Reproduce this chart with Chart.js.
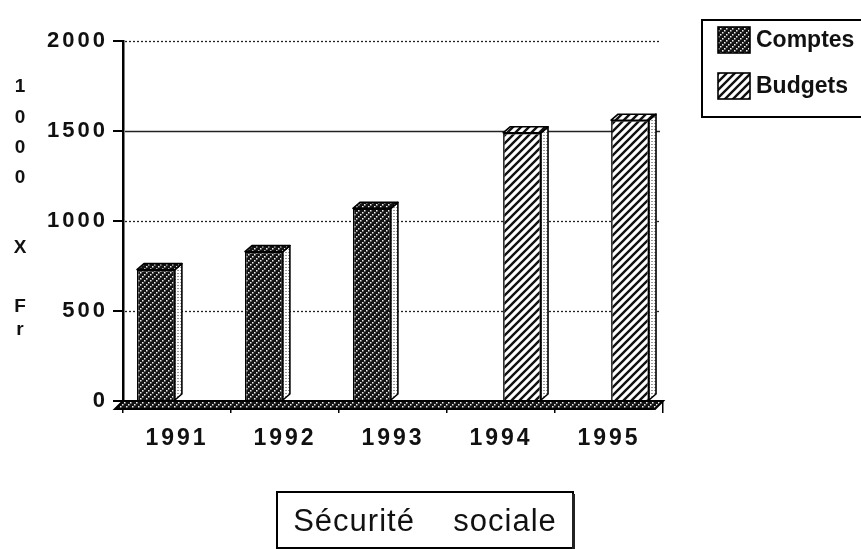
<!DOCTYPE html>
<html lang="fr">
<head>
  <meta charset="UTF-8">
  <title>Sécurité sociale</title>
  <script src="https://cdn.jsdelivr.net/npm/chart.js"></script>
  <style>
    body { margin: 0; background: #fff; }
    canvas { display: block; }
  </style>
</head>
<body>
<canvas id="chart" width="861" height="549"></canvas>
<script>
  const years = ['1991', '1992', '1993', '1994', '1995'];
  const comptes = [730, 830, 1070, 0, 0];
  const budgets = [0, 0, 0, 1490, 1560];
  const yTicks = [0, 500, 1000, 1500, 2000];
  const yTitleChars = ['1', '0', '0', '0', 'X', 'F', 'r'];
  const chartTitle = 'Sécurité    sociale';

  const FONT = "'Liberation Sans', Arial, sans-serif";
  const canvas = document.getElementById('chart');
  const ctx = canvas.getContext('2d');

  // dark tile with white dotted diagonals
  function dots() {
    const c = document.createElement('canvas');
    c.width = 6; c.height = 6;
    const g = c.getContext('2d');
    g.fillStyle = '#141414';
    g.fillRect(0, 0, 6, 6);
    g.fillStyle = '#f2f2f2';
    g.fillRect(0, 4, 1.5, 1.5);
    g.fillRect(2, 2, 1.5, 1.5);
    g.fillRect(4, 0, 1.5, 1.5);
    return ctx.createPattern(c, 'repeat');
  }
  // white tile with black diagonals
  function hatch(size, width) {
    const c = document.createElement('canvas');
    c.width = size; c.height = size;
    const g = c.getContext('2d');
    g.fillStyle = '#ffffff';
    g.fillRect(0, 0, size, size);
    g.strokeStyle = '#111111';
    g.lineWidth = width;
    g.beginPath();
    g.moveTo(0, size); g.lineTo(size, 0);
    g.moveTo(-2, 2); g.lineTo(2, -2);
    g.moveTo(size - 2, size + 2); g.lineTo(size + 2, size - 2);
    g.stroke();
    return ctx.createPattern(c, 'repeat');
  }
  function lines(bg, fg, size) {
    const c = document.createElement('canvas');
    c.width = size; c.height = size;
    const g = c.getContext('2d');
    g.fillStyle = bg;
    g.fillRect(0, 0, size, size);
    g.fillStyle = fg;
    g.fillRect(0, 0, size - 1, 1);
    return ctx.createPattern(c, 'repeat');
  }

  const darkHatch = dots();
  const lightHatch = hatch(8, 2.4);
  const sideFill = lines('#ffffff', '#9a9a9a', 3);

  const dx = 7, dy = 6;

  const gridAndFloor = {
    id: 'gridAndFloor',
    beforeDatasetsDraw(chart) {
      const { ctx, chartArea: a, scales: { y } } = chart;
      ctx.save();
      yTicks.forEach(v => {
        if (v === 0) return;
        const py = Math.round(y.getPixelForValue(v)) + 0.5;
        ctx.beginPath();
        ctx.strokeStyle = '#222';
        ctx.lineWidth = 1.3;
        ctx.setLineDash(v === 1500 ? [] : [2, 2]);
        ctx.moveTo(a.left + 2, py);
        ctx.lineTo(a.right - 3, py);
        ctx.stroke();
      });
      ctx.setLineDash([]);
      const base = y.getPixelForValue(0);
      ctx.beginPath();
      ctx.moveTo(a.left, base);
      ctx.lineTo(a.right, base);
      ctx.lineTo(a.right - 8, base + 8);
      ctx.lineTo(a.left - 8, base + 8);
      ctx.closePath();
      ctx.fillStyle = darkHatch;
      ctx.fill();
      ctx.strokeStyle = '#000';
      ctx.lineWidth = 2;
      ctx.stroke();
      ctx.restore();
    }
  };

  const depth = {
    id: 'depth',
    afterDatasetsDraw(chart) {
      const ctx = chart.ctx;
      ctx.save();
      ctx.strokeStyle = '#000';
      ctx.lineWidth = 1.6;
      ctx.lineJoin = 'round';
      chart.data.datasets.forEach((ds, i) => {
        chart.getDatasetMeta(i).data.forEach(el => {
          const { x, y, base, width } = el.getProps(['x', 'y', 'base', 'width'], true);
          if (Math.abs(base - y) < 1) return;
          const l = x - width / 2, r = x + width / 2;
          ctx.beginPath();
          ctx.moveTo(r, y);
          ctx.lineTo(r + dx, y - dy);
          ctx.lineTo(r + dx, base - dy);
          ctx.lineTo(r, base);
          ctx.closePath();
          ctx.fillStyle = sideFill;
          ctx.fill();
          ctx.stroke();
          ctx.beginPath();
          ctx.moveTo(l, y);
          ctx.lineTo(l + dx, y - dy);
          ctx.lineTo(r + dx, y - dy);
          ctx.lineTo(r, y);
          ctx.closePath();
          ctx.fillStyle = ds.backgroundColor;
          ctx.fill();
          ctx.stroke();
        });
      });
      ctx.restore();
    }
  };

  const decorations = {
    id: 'decorations',
    beforeDraw(chart) {
      chart.ctx.letterSpacing = '3px';
    },
    afterDraw(chart) {
      const ctx = chart.ctx;
      ctx.save();
      ctx.letterSpacing = '0px';
      ctx.fillStyle = '#111';
      ctx.textAlign = 'center';
      ctx.textBaseline = 'middle';

      // vertical axis title
      ctx.font = 'bold 19px ' + FONT;
      const ys = [87, 118, 148, 178, 248, 307, 330];
      yTitleChars.forEach((ch, i) => ctx.fillText(ch, 20, ys[i]));

      // legend
      ctx.strokeStyle = '#000';
      ctx.lineWidth = 2;
      ctx.strokeRect(702, 20, 180, 97);
      ctx.textAlign = 'left';
      ctx.font = 'bold 23px ' + FONT;
      chart.data.datasets.forEach((ds, i) => {
        const top = 27 + i * 46;
        ctx.fillStyle = ds.backgroundColor;
        ctx.fillRect(718, top, 32, 26);
        ctx.lineWidth = 1.6;
        ctx.strokeRect(718, top, 32, 26);
        ctx.fillStyle = '#111';
        ctx.fillText(ds.label, 756, top + 14);
      });

      // title box
      ctx.lineWidth = 2;
      ctx.strokeRect(277, 492, 296, 56);
      ctx.fillStyle = '#222';
      ctx.fillRect(572, 494, 3, 55);
      ctx.fillStyle = '#111';
      ctx.textAlign = 'center';
      ctx.font = '31px ' + FONT;
      ctx.letterSpacing = '1px';
      ctx.fillText(chartTitle, 425, 522);
      ctx.restore();
    }
  };

  new Chart(ctx, {
    type: 'bar',
    data: {
      labels: years,
      datasets: [
        { label: 'Comptes', data: comptes, backgroundColor: darkHatch, borderColor: '#000', borderWidth: 1.6 },
        { label: 'Budgets', data: budgets, backgroundColor: lightHatch, borderColor: '#000', borderWidth: 1.6 }
      ]
    },
    options: {
      responsive: false,
      animation: false,
      devicePixelRatio: 1,
      datasets: { bar: { categoryPercentage: 0.78, barPercentage: 0.9 } },
      layout: { padding: { left: 0, top: 41, right: 198, bottom: 88 } },
      plugins: { legend: { display: false }, tooltip: { enabled: false } },
      scales: {
        x: {
          afterFit: s => { s.height = 60; },
          grid: { offset: true, drawOnChartArea: false, tickLength: 12, color: '#000', lineWidth: 1.5 },
          border: { display: false },
          ticks: { color: '#111', padding: 12, font: { family: FONT, size: 23, weight: 'bold' } }
        },
        y: {
          min: 0,
          max: 2000,
          afterFit: s => { s.width = 123; },
          afterBuildTicks: s => { s.ticks = yTicks.map(v => ({ value: v })); },
          grid: { drawOnChartArea: false, tickLength: 10, color: '#000', lineWidth: 2 },
          border: { display: true, color: '#000', width: 2.5 },
          ticks: { color: '#111', padding: 5, callback: v => String(v), font: { family: FONT, size: 22, weight: 'bold' } }
        }
      }
    },
    plugins: [gridAndFloor, depth, decorations]
  });
</script>
</body>
</html>
